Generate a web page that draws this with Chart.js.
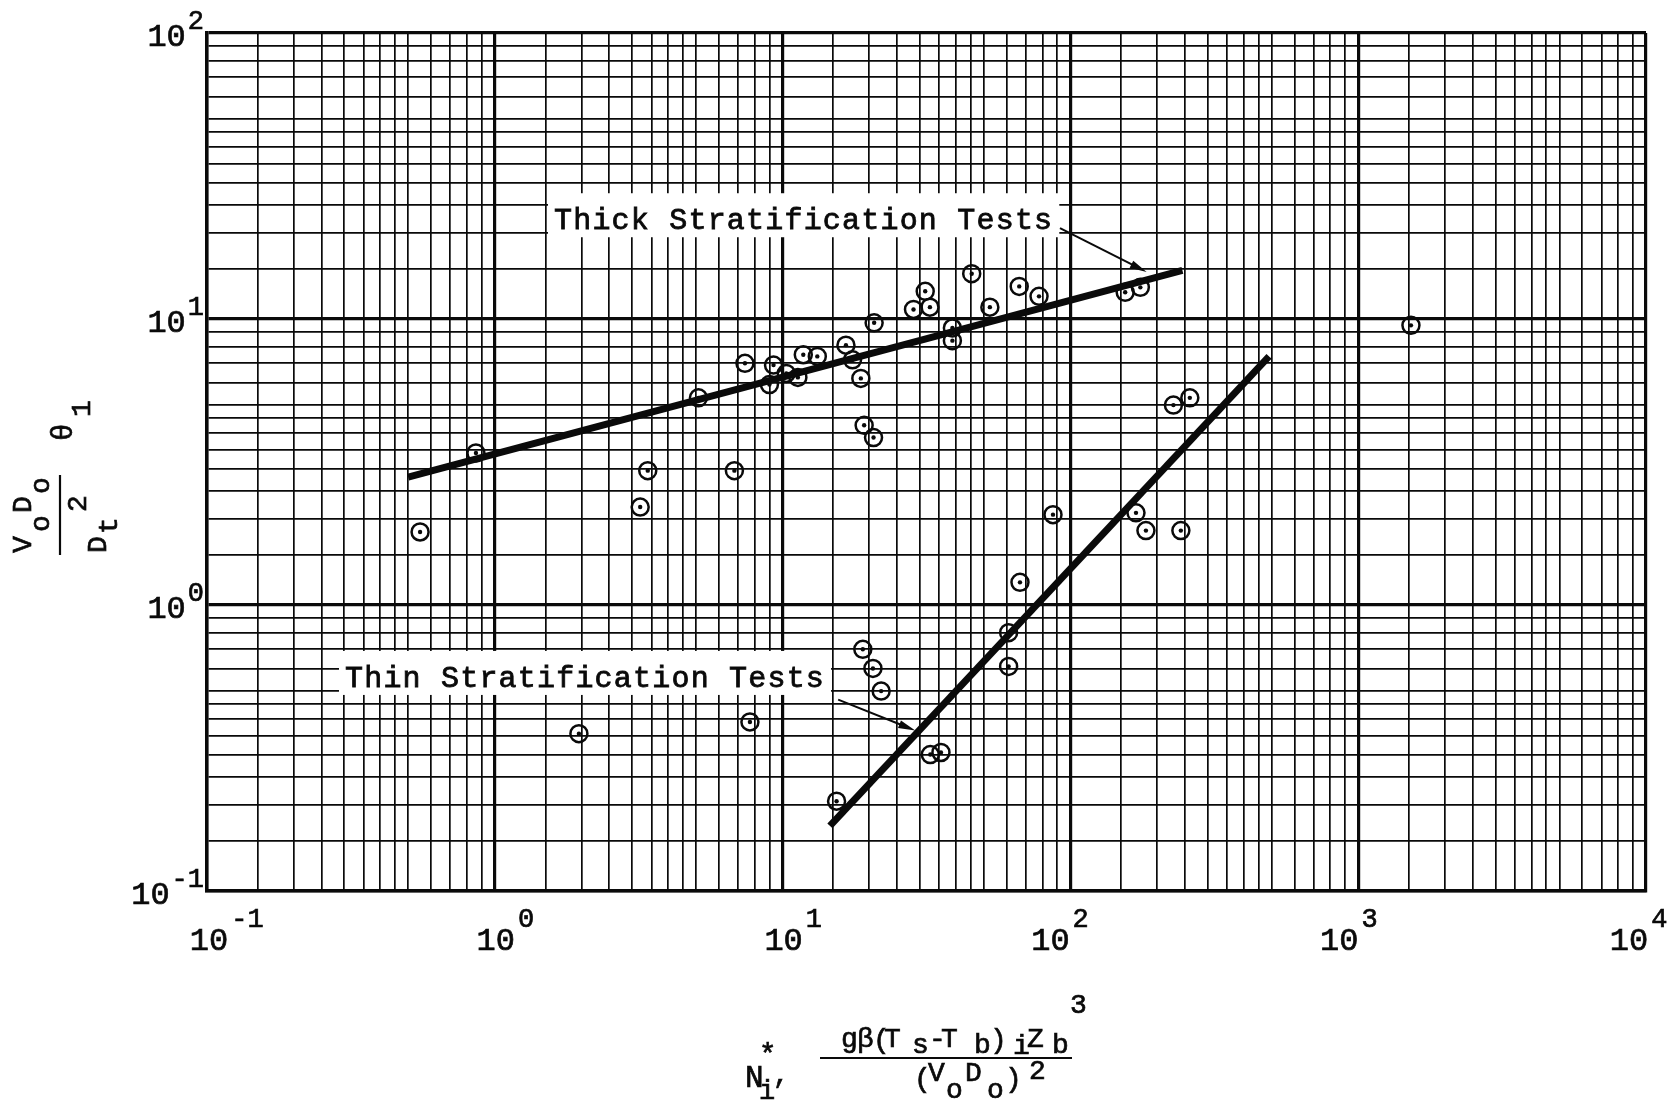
<!DOCTYPE html>
<html>
<head>
<meta charset="utf-8">
<title>Stratification tests</title>
<script src="https://cdn.jsdelivr.net/npm/chart.js@4.4.1/dist/chart.umd.min.js"></script>
<style>
  html, body { margin: 0; padding: 0; background: #fff; }
  canvas { display: block; }
</style>
</head>
<body>
<canvas id="stratChart" width="1675" height="1107"></canvas>
<script>
// Test results: N_i* against (VoDo/Dt^2) theta_1
const testX = [0.55, 0.86, 1.96, 3.2, 3.4, 5.1, 6.8, 7.4, 7.7, 9.0, 9.3, 10.3, 11.3, 11.8, 13.2, 15.4,
  16.6, 17.5, 18.7, 19.0, 19.2, 20.6, 20.7, 20.8, 22.0, 28.5, 31.3, 32.5, 32.6, 35.5, 38.9, 38.9,
  45.4, 52.5, 61, 61, 66.4, 66.8, 77.8, 87, 155, 169, 175, 183, 228, 242, 260, 1525];
const testY = [1.8, 3.4, 0.355, 2.2, 2.95, 5.3, 2.95, 7.0, 0.39, 5.9, 6.9, 6.45, 6.25, 7.5, 7.4, 0.206,
  8.1, 7.2, 6.2, 0.70, 4.25, 0.60, 3.85, 9.7, 0.50, 10.8, 12.5, 11.0, 0.30, 0.305, 9.3, 8.4,
  14.4, 11.0, 0.80, 0.61, 13.0, 1.2, 12.0, 2.07, 12.4, 2.1, 12.9, 1.82, 5.0, 1.82, 5.3, 9.5];

// fitted lines, end points
const thickFitX = [0.5, 245];
const thickFitY = [2.8, 14.8];
const thinFitX = [14.6, 490];
const thinFitY = [0.169, 7.4];

// log paper: subdivisions drawn in every decade
const gridSteps = [1, 1.5, 2, 2.5, 3, 3.5, 4, 4.5, 5, 6, 7, 8, 9];
const xDecades = [-1, 0, 1, 2, 3, 4];
const yDecades = [-1, 0, 1, 2];

// callouts: [text, text anchor x, y, arrow tail x, y, arrow tip x, y] in data units
const thickNote = ['Thick Stratification Tests', 1.606, 20.6, 92, 20.8, 184, 14.6];
const thinNote = ['Thin Stratification Tests', 0.3016, 0.517, 15.6, 0.467, 28.9, 0.364];

const INK = '#0a0a0a';
const MONO = '"Liberation Mono", "DejaVu Sans Mono", monospace';

function gridTicks(decades) {
  const ticks = [];
  decades.forEach((d, i) => {
    const base = Math.pow(10, d);
    if (i === decades.length - 1) {
      ticks.push({ value: base, major: true });
      return;
    }
    gridSteps.forEach(s => ticks.push({ value: s * base, major: s === 1 }));
  });
  return ticks;
}

function pairs(xs, ys) {
  return xs.map((v, i) => ({ x: v, y: ys[i] }));
}

// typewriter look: fill plus a hairline stroke to thicken the glyphs
function ink(ctx, t, x, y) {
  ctx.fillText(t, x, y);
  ctx.strokeText(t, x, y);
}

function drawItems(ctx, items) {
  ctx.lineWidth = 0.7;
  items.forEach(([t, x, y, size]) => {
    ctx.font = size + 'px ' + MONO;
    ink(ctx, t, x, y);
  });
}

function drawNote(ctx, xs, ys, note, box) {
  const [text, tx, ty, ax, ay, bx, by] = note;
  const px = xs.getPixelForValue(tx);
  const py = ys.getPixelForValue(ty);
  ctx.font = '30px ' + MONO;
  ctx.letterSpacing = '1.2px';
  const w = ctx.measureText(text).width;
  ctx.fillStyle = '#fff';
  ctx.fillRect(px - box, py - 36, w + box * 2, 44);
  ctx.fillStyle = INK;
  ctx.lineWidth = 0.8;
  ink(ctx, text, px, py);
  ctx.letterSpacing = '0px';

  // arrow
  const x1 = xs.getPixelForValue(ax), y1 = ys.getPixelForValue(ay);
  const x2 = xs.getPixelForValue(bx), y2 = ys.getPixelForValue(by);
  const ang = Math.atan2(y2 - y1, x2 - x1);
  ctx.lineWidth = 2;
  ctx.beginPath();
  ctx.moveTo(x1, y1);
  ctx.lineTo(x2 - 10 * Math.cos(ang), y2 - 10 * Math.sin(ang));
  ctx.stroke();
  ctx.beginPath();
  ctx.moveTo(x2, y2);
  ctx.lineTo(x2 - 17 * Math.cos(ang) + 4 * Math.sin(ang), y2 - 17 * Math.sin(ang) - 4 * Math.cos(ang));
  ctx.lineTo(x2 - 17 * Math.cos(ang) - 4 * Math.sin(ang), y2 - 17 * Math.sin(ang) + 4 * Math.cos(ang));
  ctx.closePath();
  ctx.fill();
}

const paperPlugin = {
  id: 'paper',
  beforeDraw(chart) {
    const ctx = chart.ctx;
    ctx.save();
    ctx.fillStyle = '#fff';
    ctx.fillRect(0, 0, chart.width, chart.height);
    ctx.restore();
  },
  afterDraw(chart) {
    const ctx = chart.ctx;
    const xs = chart.scales.x;
    const ys = chart.scales.y;
    ctx.save();
    ctx.fillStyle = INK;
    ctx.strokeStyle = INK;
    ctx.textBaseline = 'alphabetic';
    ctx.lineWidth = 0.7;

    // decade labels on the y axis
    yDecades.forEach(d => {
      const py = ys.getPixelForValue(Math.pow(10, d));
      const sup = String(d);
      ctx.font = '27px ' + MONO;
      const sw = ctx.measureText(sup).width;
      ctx.font = '32px ' + MONO;
      const bw = ctx.measureText('10').width;
      const right = xs.left - 3;
      ink(ctx, '10', right - sw - 2 - bw, py + 13);
      ctx.font = '27px ' + MONO;
      ink(ctx, sup, right - sw, py - 4);
    });

    // decade labels on the x axis
    const xNudge = [2, 1, 1, -20, -19, -17];
    xDecades.forEach((d, i) => {
      const px = xs.getPixelForValue(Math.pow(10, d)) + xNudge[i];
      ctx.font = '32px ' + MONO;
      const bw = ctx.measureText('10').width;
      ink(ctx, '10', px - bw / 2, xs.bottom + 59);
      ctx.font = '27px ' + MONO;
      ink(ctx, String(d), px + bw / 2 + 3, xs.bottom + 36);
    });

    drawNote(ctx, xs, ys, thickNote, 6);
    drawNote(ctx, xs, ys, thinNote, 6);

    // x axis title: N_i*, g beta (Ts - Tb)_i Zb^3 / (Vo Do)^2
    drawItems(ctx, [
      ['N', 745, 1087, 31], ['*', 759, 1064, 29], ['i', 759, 1099, 27], [',', 773, 1083, 27],
      ['g', 841, 1047, 28], ['β', 857, 1047, 28], ['(', 873, 1048, 28], ['T', 884, 1047, 28],
      ['s', 912, 1053, 28], ['-', 929, 1047, 28], ['T', 941, 1047, 28], ['b', 974, 1053, 28],
      [')', 990, 1048, 28], ['i', 1013, 1054, 28], ['Z', 1027, 1047, 28], ['b', 1052, 1053, 28],
      ['3', 1070, 1013, 28],
      ['(', 914, 1087, 28], ['V', 928, 1081, 28], ['o', 946, 1098, 28], ['D', 965, 1081, 28],
      ['o', 987, 1098, 28], [')', 1005, 1087, 28], ['2', 1029, 1079, 28]
    ]);
    ctx.lineWidth = 2.2;
    ctx.beginPath();
    ctx.moveTo(820, 1058);
    ctx.lineTo(1072, 1058);
    ctx.stroke();

    // y axis title, rotated: Vo Do / Dt^2  theta_1
    ctx.translate(60, 553);
    ctx.rotate(-Math.PI / 2);
    drawItems(ctx, [
      ['V', 0, -29, 28], ['o', 21, -11, 28], ['D', 40, -29, 28], ['o', 59, -11, 28],
      ['D', 0, 46, 28], ['t', 19, 57, 28], ['2', 41, 26, 28],
      ['θ', 112, 12, 29], ['1', 136, 30, 28]
    ]);
    ctx.lineWidth = 2.2;
    ctx.beginPath();
    ctx.moveTo(-2, 0);
    ctx.lineTo(78, 0);
    ctx.stroke();
    ctx.restore();
  }
};

const gridWidth = c => (c.tick && c.tick.major ? 3.2 : 1.7);

new Chart(document.getElementById('stratChart'), {
  type: 'scatter',
  data: {
    datasets: [
      {
        label: 'Thick stratification fit',
        data: pairs(thickFitX, thickFitY),
        showLine: true,
        borderColor: INK,
        borderWidth: 7,
        pointRadius: 0,
        order: 0
      },
      {
        label: 'Thin stratification fit',
        data: pairs(thinFitX, thinFitY),
        showLine: true,
        borderColor: INK,
        borderWidth: 7,
        pointRadius: 0,
        order: 0
      },
      {
        label: 'Tests',
        data: pairs(testX, testY),
        pointStyle: 'circle',
        pointRadius: 8.5,
        pointBorderWidth: 2.5,
        pointBorderColor: INK,
        pointBackgroundColor: 'rgba(0,0,0,0)',
        order: 1
      },
      {
        label: 'Test centres',
        data: pairs(testX, testY),
        pointStyle: 'circle',
        pointRadius: 2.2,
        pointBorderWidth: 0,
        pointBackgroundColor: INK,
        order: 1
      }
    ]
  },
  options: {
    responsive: false,
    animation: false,
    events: [],
    layout: { padding: { left: 207, right: 29, top: 33, bottom: 216 } },
    plugins: {
      legend: { display: false },
      tooltip: { enabled: false }
    },
    scales: {
      x: {
        type: 'logarithmic',
        min: 0.1,
        max: 10000,
        afterBuildTicks: axis => { axis.ticks = gridTicks(xDecades); },
        ticks: { display: false },
        grid: { color: INK, lineWidth: gridWidth, drawTicks: false },
        border: { display: true, color: INK, width: 3.5 }
      },
      y: {
        type: 'logarithmic',
        min: 0.1,
        max: 100,
        afterBuildTicks: axis => { axis.ticks = gridTicks(yDecades); },
        ticks: { display: false },
        grid: { color: INK, lineWidth: gridWidth, drawTicks: false },
        border: { display: true, color: INK, width: 3.5 }
      }
    }
  },
  plugins: [paperPlugin]
});
</script>
</body>
</html>
